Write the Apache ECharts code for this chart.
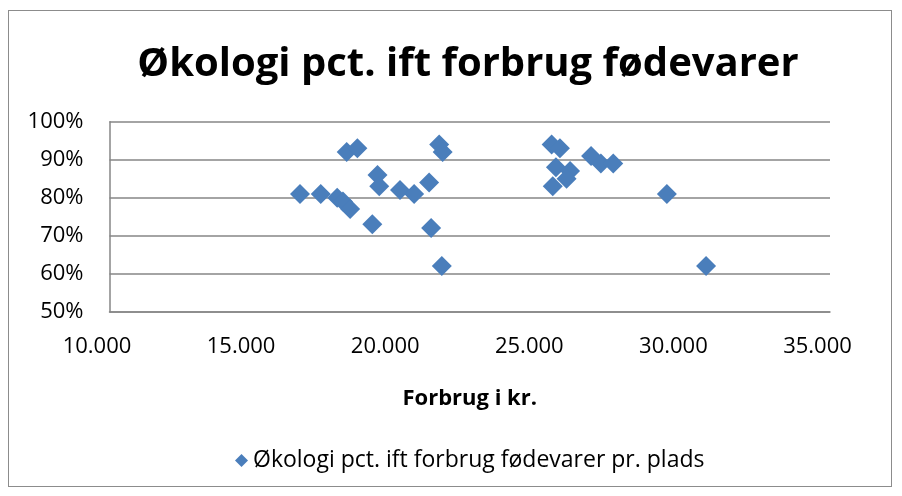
<!DOCTYPE html>
<html>
<head>
<meta charset="utf-8">
<script src="https://cdn.jsdelivr.net/npm/echarts@6/dist/echarts.min.js"></script>
<style>
  html, body { margin: 0; padding: 0; background: #fff; }
  #frame {
    position: absolute; left: 8px; top: 10px; width: 884px; height: 477px;
    border: 1px solid #8c8c8c; box-sizing: border-box;
  }
  #chart { position: absolute; left: 0; top: 0; width: 902px; height: 496px; }
</style>
</head>
<body>
<div id="frame"></div>
<div id="chart"></div>
<script>
// forbrug i kr. pr. plads og økologiandel
const forbrug = [
  16610, 17330, 17900, 18100, 18350, 18230, 18600, 19300, 19360, 19120,
  20080, 20570, 21090, 21160, 21440, 21560, 21530,
  25340, 25630, 25490, 25980, 25860, 25380, 26710, 27050, 27480,
  29340, 30700
]
const oekologi = [
  0.81, 0.81, 0.80, 0.79, 0.77, 0.92, 0.93, 0.86, 0.83, 0.73,
  0.82, 0.81, 0.84, 0.72, 0.94, 0.92, 0.62,
  0.94, 0.93, 0.88, 0.87, 0.85, 0.83, 0.91, 0.89, 0.89,
  0.81, 0.62
]
const seriesName = 'Økologi pct. ift forbrug fødevarer pr. plads'
const titleText = 'Økologi pct. ift forbrug fødevarer'
const xName = 'Forbrug i kr.'

const points = forbrug.map((x, i) => [x, oekologi[i]])
const font = '"Open Sans", sans-serif'

const chart = echarts.init(document.getElementById('chart'))
chart.setOption({
  animation: false,
  title: {
    text: titleText,
    left: 463,
    top: 40,
    textAlign: 'center',
    textStyle: { fontFamily: font, fontWeight: 'bold', fontSize: 40, color: '#000' }
  },
  legend: {
    data: [{ name: seriesName, icon: 'diamond' }],
    left: 230,
    top: 444,
    itemWidth: 13,
    itemHeight: 13,
    itemGap: 4,
    textStyle: { fontFamily: font, fontSize: 23, color: '#000' }
  },
  grid: { left: 109.5, right: 72, top: 121.7, bottom: 184.3 },
  xAxis: {
    type: 'value',
    min: 10000,
    max: 35000,
    interval: 5000,
    name: xName,
    nameLocation: 'middle',
    nameGap: 76,
    nameTextStyle: { fontFamily: font, fontWeight: 'bold', fontSize: 22, color: '#000' },
    axisLine: { show: true, lineStyle: { color: '#868686', width: 1.5 } },
    axisTick: { show: false },
    splitLine: { show: false },
    axisLabel: {
      fontFamily: font, fontSize: 22, color: '#000', margin: 24,
      padding: [0, 25, 0, 0],
      formatter: v => (v / 1000).toFixed(3)
    }
  },
  yAxis: {
    type: 'value',
    min: 0.5,
    max: 1,
    interval: 0.1,
    axisLine: { show: true, lineStyle: { color: '#868686', width: 1.5 } },
    axisTick: { show: false },
    splitLine: { show: true, lineStyle: { color: '#868686', width: 1.5 } },
    axisLabel: {
      fontFamily: font, fontSize: 22, color: '#000', margin: 26,
      formatter: v => Math.round(v * 100) + '%'
    }
  },
  series: [{
    name: seriesName,
    type: 'scatter',
    symbol: 'diamond',
    symbolSize: 20,
    itemStyle: { color: '#4a7ebb', opacity: 1 },
    data: points
  }]
})
</script>
</body>
</html>
